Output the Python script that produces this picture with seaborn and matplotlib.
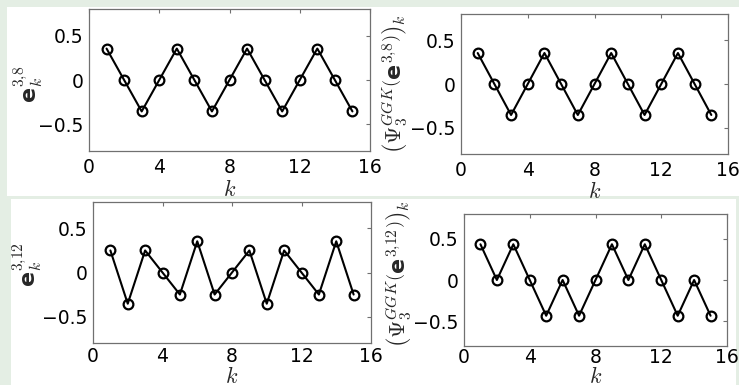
import matplotlib
matplotlib.use("Agg")
import matplotlib.pyplot as plt
import pandas as pd
import seaborn as sns
from matplotlib.patches import Rectangle

# sample index k = 1..15
k = list(range(1, 16))

# basis vector e^{3,8} and its transform
e38 = [0.354, 0, -0.354, 0, 0.354, 0, -0.354, 0, 0.354, 0, -0.354, 0, 0.354, 0, -0.354]
psi_e38 = [0.354, 0, -0.354, 0, 0.354, 0, -0.354, 0, 0.354, 0, -0.354, 0, 0.354, 0, -0.354]

# basis vector e^{3,12} and its transform
e312 = [0.25, -0.354, 0.25, 0, -0.25, 0.354, -0.25, 0, 0.25, -0.354, 0.25, 0, -0.25, 0.354, -0.25]
psi_e312 = [0.433, 0, 0.433, 0, -0.433, 0, -0.433, 0, 0.433, 0, 0.433, 0, -0.433, 0, -0.433]

xticks = [0, 4, 8, 12, 16]
yticks = [-0.5, 0, 0.5]
ytick_labels = ["\u22120.5", "0", "0.5"]

ylabels = [
    r"$\mathbf{e}_k^{3{,}8}$",
    r"$\left(\Psi_3^{GGK}\left(\mathbf{e}^{3{,}8}\right)\right)_k$",
    r"$\mathbf{e}_k^{3{,}12}$",
    r"$\left(\Psi_3^{GGK}\left(\mathbf{e}^{3{,}12}\right)\right)_k$",
]

sns.set_theme(style="white")
plt.rcParams["font.family"] = ["DejaVu Sans"]
plt.rcParams["mathtext.fontset"] = "cm"
# custom math set: Computer Modern letters with a bold sans "e"
plt.rcParams["mathtext.rm"] = "cmr10"
plt.rcParams["mathtext.it"] = "cmmi10"
plt.rcParams["mathtext.bf"] = "DejaVu Sans:bold"
plt.rcParams["mathtext.fallback"] = "cm"

W, H = 739, 385
fig = plt.figure(figsize=(W / 100, H / 100), dpi=100)
fig.patch.set_facecolor("#e4eee4")

# white panels behind each row
def px_rect(x0, y0, x1, y1):
    return Rectangle((x0 / W, 1 - y1 / H), (x1 - x0) / W, (y1 - y0) / H,
                     transform=fig.transFigure, facecolor="white",
                     edgecolor="none", zorder=-10)

fig.patches.append(px_rect(7, 7, 739, 196))
fig.patches.append(px_rect(11, 199, 736, 385))

def px_axes(x0, y0, x1, y1):
    return fig.add_axes([x0 / W, 1 - y1 / H, (x1 - x0) / W, (y1 - y0) / H])

axes = [
    px_axes(89, 9, 370, 151),
    px_axes(461, 14, 728, 154),
    px_axes(93, 202, 371, 343),
    px_axes(464, 214, 727, 346),
]
series = [e38, psi_e38, e312, psi_e312]
# (x, y) label anchors in axes coordinates
ylabel_pos = [(-0.155, 0.47), (-0.19, 0.5), (-0.175, 0.56), (-0.19, 0.55)]
xlabel_pos = [(0.5, -0.2), (0.5, -0.19), (0.5, -0.16), (0.5, -0.155)]
xtick_pad = [5, 5, 3, 1.5]

for ax, vals, ylab, yp, xp, pad in zip(axes, series, ylabels, ylabel_pos,
                                       xlabel_pos, xtick_pad):
    df = pd.DataFrame({"k": k, "v": vals})
    sns.lineplot(data=df, x="k", y="v", ax=ax, color="black", linewidth=1.5,
                 marker="o", markersize=7, markerfacecolor="none",
                 markeredgecolor="black", markeredgewidth=1.6)
    ax.set_xlim(0, 16)
    ax.set_ylim(-0.8, 0.8)
    ax.set_xticks(xticks)
    ax.set_xticklabels([str(t) for t in xticks])
    ax.set_yticks(yticks)
    ax.set_yticklabels(ytick_labels)
    ax.tick_params(direction="in", length=3, width=0.8, color="#707070",
                   top=True, right=True, labelsize=13.5, labelcolor="black")
    ax.tick_params(axis="x", pad=pad)
    ax.tick_params(axis="y", pad=4)
    for sp in ax.spines.values():
        sp.set_color("#707070")
        sp.set_linewidth(0.9)
    ax.set_facecolor("white")
    ax.set_xlabel("$k$", fontsize=16, math_fontfamily="cm")
    ax.xaxis.set_label_coords(*xp)
    ax.set_ylabel(ylab, fontsize=16, math_fontfamily="custom")
    ax.yaxis.set_label_coords(*yp)

fig.savefig("out.png", dpi=100, facecolor=fig.get_facecolor())
